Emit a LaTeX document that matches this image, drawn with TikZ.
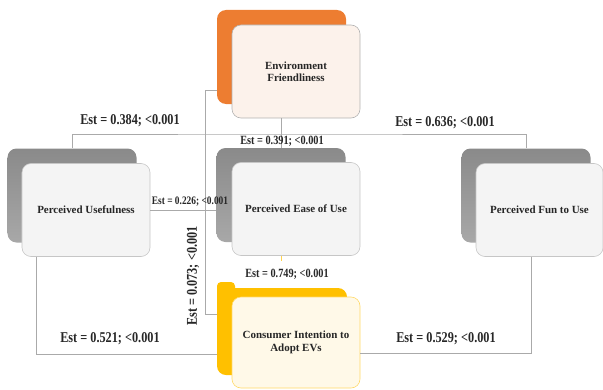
\documentclass[tikz,border=0pt]{standalone}
\usepackage{fontspec}
\setmainfont{Liberation Serif}
\newfontfamily\narrowfont{Liberation Serif}[FakeStretch=0.82]
\usepackage{tikz}
\usetikzlibrary{calc}
\usepackage{xcolor}
\definecolor{tangerine}{RGB}{237, 125, 49}
\definecolor{amber}{RGB}{255, 192, 0}
\definecolor{peach}{RGB}{252, 242, 235}
\definecolor{cream}{RGB}{255, 249, 232}
\definecolor{mist}{RGB}{244, 244, 244}
\definecolor{wire}{RGB}{170, 170, 170}
\tikzset{
  back/.style={
    rounded corners=9bp, minimum width=129bp, minimum height=94bp, inner sep=0pt
  },
  backgray/.style={back, top color={rgb,255:red,138;green,138;blue,138}, bottom color={rgb,255:red,168;green,168;blue,168}},
  backorange/.style={back, fill=tangerine},
  backyellow/.style={back, fill=amber},
  front/.style={
    draw, rounded corners=9bp, minimum width=128bp, minimum height=93bp,
    align=center, inner sep=2pt, line width=0.6pt,
    font=\fontsize{11}{12.5}\selectfont\bfseries, text=black!85
  },
  frontgray/.style={front, fill=mist, draw=gray!45},
  frontorange/.style={front, fill=peach, draw=gray!60},
  frontyellow/.style={front, fill=cream, draw=amber!60},
  link/.style={draw=wire, line width=0.7pt},
}

\begin{document}
\begin{tikzpicture}[
    x=1bp, y=1bp,
    est/.style={
        font=\narrowfont\bfseries\fontsize{15}{16}\selectfont,
        inner sep=1pt, text=black!85
    },
    estmid/.style={est, font=\narrowfont\bfseries\fontsize{12.6}{14}\selectfont},
    estsmall/.style={est, font=\narrowfont\bfseries\fontsize{11.5}{13}\selectfont}
]
\useasboundingbox (0,0) rectangle (603,389);

\node[backorange] (ef-back) at (281.5,332) {};
\node[frontorange] (ef-front) at (296,317.5) {Environment\\Friendliness};

\node[backgray] (pu-back) at (72,193.5) {};
\node[frontgray] (pu-front) at (86,179) {Perceived Usefulness};

\node[backgray] (peou-back) at (281,194) {};
\node[frontgray] (peou-front) at (296,180) {Perceived Ease of Use};

\node[backgray] (pfu-back) at (526,193.5) {};
\node[frontgray, minimum width=127bp] (pfu-front) at (539.5,179) {Perceived Fun to Use};

\node[backyellow, minimum width=130bp, minimum height=87bp] (ci-back) at (282,57.5) {};
\node[backyellow, minimum width=18bp, minimum height=18bp, rounded corners=4bp, anchor=north west] (ci-tab) at ([yshift=6bp]ci-back.north west) {};
\node[frontyellow, minimum height=91bp] (ci-front) at (296,46.5) {Consumer Intention to\\Adopt EVs};

\coordinate (bar) at (281,255);
\coordinate (stub) at (281,128);

\draw[link] (peou-back.north |- ef-front.south) -- (peou-back.north);
\draw[link] (pu-back.north) |- (bar) -| (pfu-back.north);
\draw[link] ([yshift=-33bp]ef-back.west) -- ++(-11,0) |- ([yshift=17.5bp]ci-back.west);
\draw[link] (pu-front.east) -- (pu-front.east -| peou-back.west);
\draw[link] ([xshift=-50bp]pu-front.south) |- ([yshift=-22.5bp]ci-back.west);
\draw[link] ([xshift=-8.5bp]pfu-front.south) |- ([yshift=-10.5bp]ci-front.east);
\draw[draw=amber!70, line width=0.7pt] (peou-back.south |- peou-front.south) -- (stub);

\node[est] (l384) at (130,268) {Est = 0.384; <0.001};
\node[est] (l636) at (445,266) {Est = 0.636; <0.001};
\node[estmid] (l391) at (282,247.5) {Est = 0.391; <0.001};
\node[estsmall] (l226) at (190,187) {Est = 0.226; <0.001};
\node[est, rotate=90] (l073) at (193,113) {Est = 0.073; <0.001};
\node[estmid] (l749) at (287,115) {Est = 0.749; <0.001};
\node[est] (l521) at (110,50) {Est = 0.521; <0.001};
\node[est] (l529) at (446,50) {Est = 0.529; <0.001};

\end{tikzpicture}
\end{document}
